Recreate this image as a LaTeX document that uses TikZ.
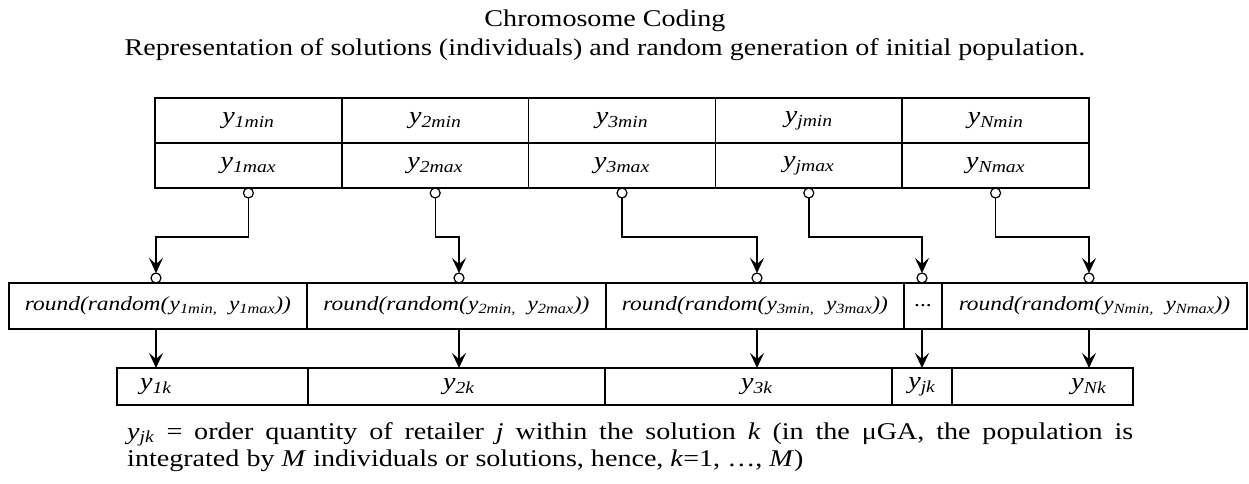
\documentclass[tikz,border=0pt]{standalone}
\usepackage{fontspec}
\setmainfont{Liberation Serif}[FakeStretch=1.17]
\usetikzlibrary{arrows.meta,positioning}

\newcommand{\yvar}[1]{\textit{y}\textsubscript{\textit{#1}}}

\begin{document}
\begin{tikzpicture}[
  x=1pt, y=-1pt,
  head/.style={inner sep=0pt, font=\fontsize{24}{28}\selectfont},
  cell/.style={draw=black, line width=1.5pt, anchor=north west, outer sep=0pt,
               inner sep=0pt, minimum width=186.8pt, minimum height=45pt,
               font=\fontsize{24}{28}\selectfont},
  gen/.style={cell, minimum height=46pt, font=\fontsize{20}{24}\selectfont},
  slot/.style={draw=black, line width=2.6pt, anchor=north west, outer sep=0pt,
               inner sep=0pt, minimum height=37pt},
  lbl/.style={inner sep=0pt, font=\fontsize{24}{28}\selectfont},
  knob/.style={circle, draw=black, fill=white, line width=1.2pt, inner sep=0pt,
               outer sep=0pt, minimum size=10pt},
  link/.style={-{Stealth[length=15pt,width=14pt,inset=6pt]}, line width=1.4pt}
]
\useasboundingbox (0,0) rectangle (1249,484);

\node[head] (title) at (605,21) {Chromosome Coding};
\node[head] (subtitle) at (605,50)
  {Representation of solutions (individuals) and random generation of initial population.};

% bounds of each gene
\node[cell] (min1) at (155,98) {\yvar{1min}};
\node[cell, right=0pt of min1] (min2) {\yvar{2min}};
\node[cell, right=0pt of min2] (min3) {\yvar{3min}};
\node[cell, right=0pt of min3] (minj) {\yvar{jmin}};
\node[cell, right=0pt of minj] (minN) {\yvar{Nmin}};
\node[cell, below=0pt of min1] (max1) {\yvar{1max}};
\node[cell, below=0pt of min2] (max2) {\yvar{2max}};
\node[cell, below=0pt of min3] (max3) {\yvar{3max}};
\node[cell, below=0pt of minj] (maxj) {\yvar{jmax}};
\node[cell, below=0pt of minN] (maxN) {\yvar{Nmax}};

\node[knob, below=0pt of max1] (o1) {};
\node[knob, below=0pt of max2] (o2) {};
\node[knob, below=0pt of max3] (o3) {};
\node[knob, below=0pt of maxj] (oj) {};
\node[knob, below=0pt of maxN] (oN) {};

% random generation
\node[gen, minimum width=298pt] (gen1) at (9,283)
  {\textit{round(random(}\yvar{1min,}\ \ \yvar{1max}\textit{))}};
\node[gen, minimum width=299pt, right=0pt of gen1] (gen2)
  {\textit{round(random(}\yvar{2min,}\ \ \yvar{2max}\textit{))}};
\node[gen, minimum width=298pt, right=0pt of gen2] (gen3)
  {\textit{round(random(}\yvar{3min,}\ \ \yvar{3max}\textit{))}};
\node[gen, minimum width=38pt, right=0pt of gen3] (genj) {...};
\node[gen, minimum width=305pt, right=0pt of genj] (genN)
  {\textit{round(random(}\yvar{Nmin,}\ \ \yvar{Nmax}\textit{))}};

\node[knob] (i1) at (156,278) {};
\node[knob] (i2) at (459,278) {};
\node[knob] (i3) at (757,278) {};
\node[knob] (ij) at (922,278) {};
\node[knob] (iN) at (1089,278) {};

% chromosome k
\node[slot, minimum width=191pt] (out1) at (117,368) {};
\node[slot, minimum width=297pt, right=0pt of out1] (out2) {};
\node[slot, minimum width=287pt, right=0pt of out2] (out3) {};
\node[slot, minimum width=60pt, right=0pt of out3] (outj) {};
\node[slot, minimum width=181pt, right=0pt of outj] (outN) {};

\node[lbl] (y1k) at (i1 |- out1) {\yvar{1k}};
\node[lbl] (y2k) at (i2 |- out2) {\yvar{2k}};
\node[lbl] (y3k) at (i3 |- out3) {\yvar{3k}};
\node[lbl] (yjk) at (ij |- outj) {\yvar{jk}};
\node[lbl] (yNk) at (iN |- outN) {\yvar{Nk}};

\draw[link] (o1.south) -- ++(0,39) -| (i1.north);
\draw[link] (o2.south) -- ++(0,39) -| (i2.north);
\draw[link] (o3.south) -- ++(0,39) -| (i3.north);
\draw[link] (oj.south) -- ++(0,39) -| (ij.north);
\draw[link] (oN.south) -- ++(0,39) -| (iN.north);

\draw[link] (i1 |- gen1.south) -- (i1 |- out1.north);
\draw[link] (i2 |- gen2.south) -- (i2 |- out2.north);
\draw[link] (i3 |- gen3.south) -- (i3 |- out3.north);
\draw[link] (ij |- genj.south) -- (ij |- outj.north);
\draw[link] (iN |- genN.south) -- (iN |- outN.north);

\node[inner sep=0pt, anchor=base west, text width=1006pt, align=justify,
      font=\fontsize{24}{27.6}\selectfont] (legend) at (127,439)
  {\yvar{jk} = order quantity of retailer \textit{j} within the solution
   \textit{k} (in the μGA, the population is\linebreak
   integrated by \textit{M} individuals or solutions, hence, \textit{k}=1,
   …, \textit{M})};
\end{tikzpicture}
\end{document}
